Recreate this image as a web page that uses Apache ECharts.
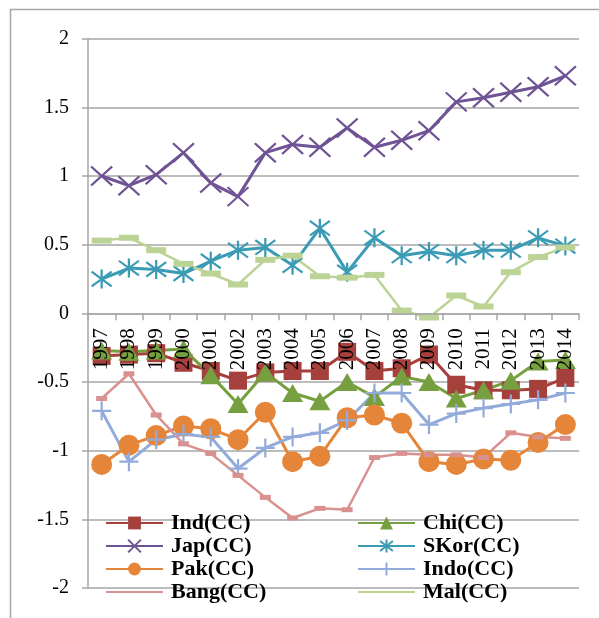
<!DOCTYPE html>
<html>
<head>
<meta charset="utf-8">
<script src="https://cdn.jsdelivr.net/npm/echarts@6/dist/echarts.min.js"></script>
<style>
html,body{margin:0;padding:0;background:#fff;}
#chart{width:599px;height:618px;}
</style>
</head>
<body>
<div id="chart"></div>
<script>
var years = ['1997','1998','1999','2000','2001','2002','2003','2004','2005','2006','2007','2008','2009','2010','2011','2012','2013','2014'];
var yTicks = [-2, -1.5, -1, -0.5, 0, 0.5, 1, 1.5, 2];

var ind  = [-0.31,-0.30,-0.29,-0.36,-0.42,-0.49,-0.43,-0.42,-0.42,-0.28,-0.42,-0.40,-0.30,-0.52,-0.56,-0.56,-0.55,-0.47];
var chi  = [-0.27,-0.28,-0.27,-0.26,-0.45,-0.66,-0.43,-0.58,-0.64,-0.50,-0.61,-0.46,-0.50,-0.62,-0.56,-0.49,-0.35,-0.34];
var jap  = [1.00,0.93,1.01,1.17,0.95,0.85,1.17,1.23,1.21,1.35,1.21,1.26,1.33,1.54,1.57,1.61,1.65,1.73];
var skor = [0.25,0.33,0.32,0.29,0.38,0.46,0.48,0.35,0.62,0.30,0.55,0.42,0.45,0.42,0.46,0.46,0.55,0.49];
var pak  = [-1.10,-0.96,-0.89,-0.82,-0.84,-0.92,-0.72,-1.08,-1.04,-0.76,-0.74,-0.80,-1.08,-1.10,-1.06,-1.07,-0.94,-0.81];
var indo = [-0.71,-1.08,-0.92,-0.88,-0.90,-1.13,-0.98,-0.90,-0.87,-0.78,-0.58,-0.58,-0.81,-0.73,-0.69,-0.66,-0.63,-0.58];
var bang = [-0.62,-0.44,-0.74,-0.95,-1.02,-1.18,-1.34,-1.49,-1.42,-1.43,-1.05,-1.02,-1.03,-1.03,-1.05,-0.87,-0.90,-0.91];
var mal  = [0.53,0.55,0.46,0.36,0.29,0.21,0.39,0.42,0.27,0.26,0.28,0.02,-0.03,0.13,0.05,0.30,0.41,0.48];

var names = ['Ind(CC)','Chi(CC)','Jap(CC)','SKor(CC)','Pak(CC)','Indo(CC)','Bang(CC)','Mal(CC)'];

var serif = '"Liberation Serif","Times New Roman",serif';
var chart = echarts.init(document.getElementById('chart'), null, {renderer:'canvas'});

function mk(name, data, color, symbol, size, opts) {
  opts = opts || {};
  return {
    name: name, type: 'line', data: data,
    symbol: symbol, symbolSize: size, showSymbol: true,
    lineStyle: {color: color, width: opts.lw || 3},
    itemStyle: {color: color, borderColor: color, borderWidth: opts.bw || 0},
    emphasis: {disabled: true},
    animation: false
  };
}

var X = 'path://M0,0L10,10M10,0L0,10';
var AST = 'path://M0,0L10,10M10,0L0,10M5,-1.5L5,11.5';
var PLUS = 'path://M5,0L5,10M0,5L10,5';

var legendText = {fontFamily: serif, fontWeight: 'bold', fontSize: 22, color: '#000', lineHeight: 23, padding: [0,0,0,3]};

var gridTop = 38.7, gridBottom = 30, H = 618;
var zeroOffset = -(H - gridTop - gridBottom) / 2;

var option = {
  animation: false,
  backgroundColor: '#fff',
  graphic: [{
    type: 'rect', left: 8, top: 7, z: -10,
    shape: {width: 700, height: 700},
    style: {fill: 'none', stroke: '#A6A6A6', lineWidth: 1.5}
  }],
  grid: {left: 88, right: 20, top: gridTop, bottom: gridBottom, containLabel: false, outerBoundsMode: 'none'},
  xAxis: {
    type: 'category', data: years, boundaryGap: true, z: 10, position: 'bottom', offset: zeroOffset,
    axisLine: {onZero: false, lineStyle: {color: '#A6A6A6', width: 1.5}},
    axisTick: {show: true, interval: 0, length: 7, lineStyle: {color: '#A6A6A6', width: 1.5}},
    axisLabel: {interval: 0, rotate: 90, margin: 15, fontFamily: serif, fontSize: 21, color: '#000'},
    splitLine: {show: false}
  },
  yAxis: {
    type: 'value', min: -2, max: 2, interval: 0.5,
    axisLine: {show: true, lineStyle: {color: '#A6A6A6', width: 1.5}},
    axisTick: {show: true, length: 6, lineStyle: {color: '#A6A6A6', width: 1.5}},
    axisLabel: {margin: 19, fontFamily: serif, fontSize: 20, color: '#000',
      formatter: function(v){ return yTicks.indexOf(v) >= 0 ? String(v) : ''; }},
    splitLine: {show: true, lineStyle: {color: '#A6A6A6', width: 1.5}}
  },
  legend: [
    {orient: 'vertical', left: 105, top: 511.5, padding: 0, itemGap: 0, itemWidth: 57, itemHeight: 16,
     data: [names[0], names[2], names[4], {name: names[6], itemStyle: {opacity: 0}}],
     textStyle: legendText, selectedMode: false},
    {orient: 'vertical', left: 357, top: 511.5, padding: 0, itemGap: 0, itemWidth: 57, itemHeight: 16,
     data: [names[1], names[3], names[5], {name: names[7], itemStyle: {opacity: 0}}],
     textStyle: legendText, selectedMode: false}
  ],
  series: [
    mk(names[0], ind, '#A5403C', 'rect', 18),
    mk(names[1], chi, '#76A040', 'triangle', [21, 18]),
    mk(names[2], jap, '#6F5394', X, [21, 19], {bw: 2.2}),
    mk(names[3], skor, '#3B9BB5', AST, [20, 19], {bw: 2.2}),
    mk(names[4], pak, '#E5853A', 'circle', 21),
    mk(names[5], indo, '#92ABDA', PLUS, [19, 19], {bw: 2.2}),
    mk(names[6], bang, '#D9918F', 'rect', [11, 5], {lw: 2.5}),
    mk(names[7], mal, '#BCD396', 'rect', [20, 6], {lw: 2.5})
  ]
};
chart.setOption(option);
</script>
</body>
</html>
